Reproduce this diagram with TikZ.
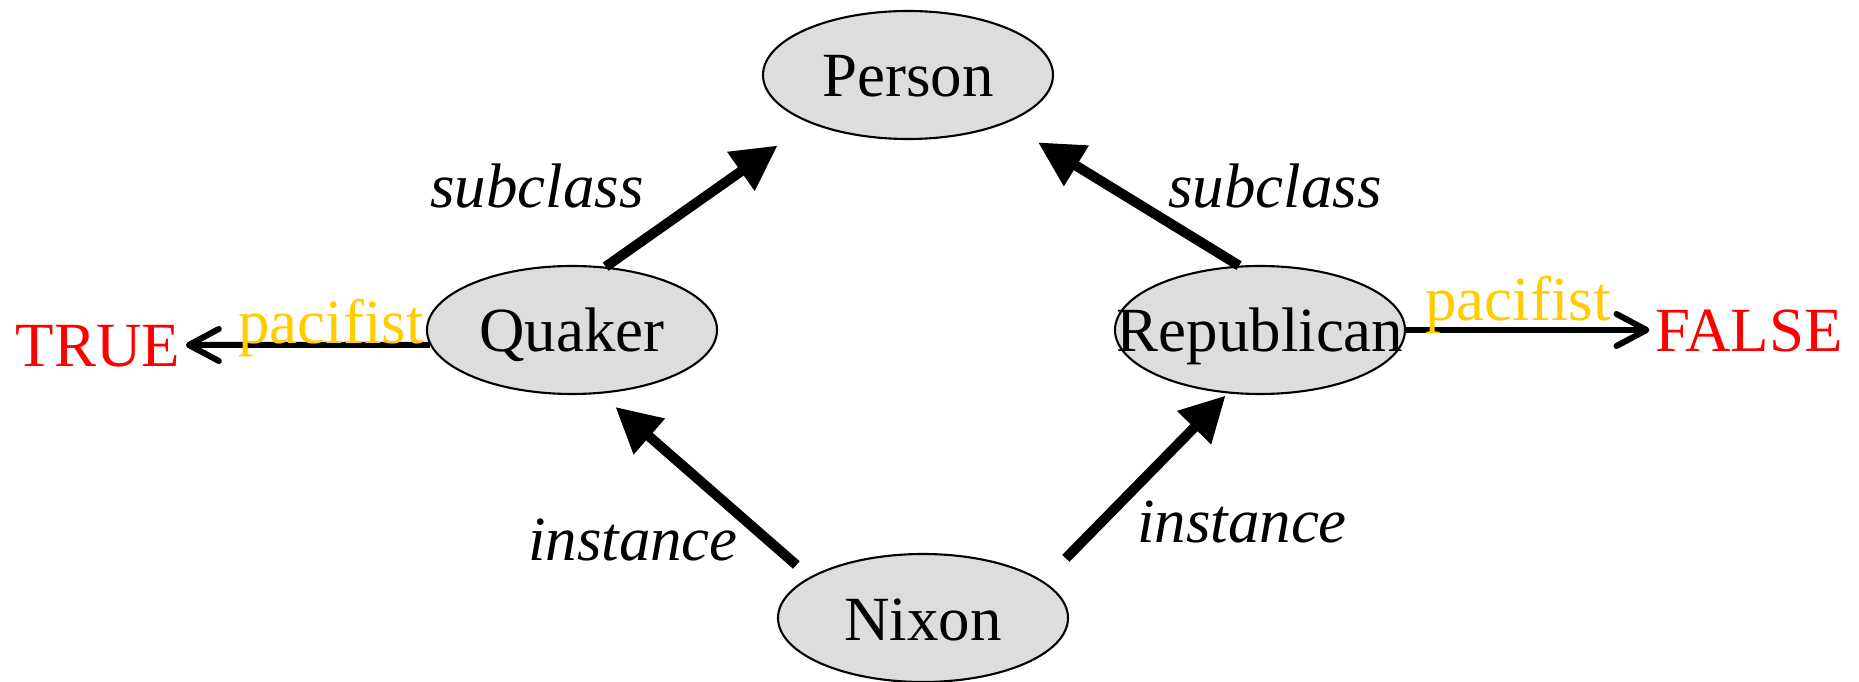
\documentclass[tikz,border=0pt]{standalone}
\usepackage{fontspec}
\setmainfont{Liberation Serif}
\usetikzlibrary{arrows.meta,shapes.geometric}
\definecolor{nodefill}{HTML}{DDDDDD}
\definecolor{valred}{HTML}{FF0000}
\definecolor{slotgold}{HTML}{FFCC00}

\begin{document}
\begin{tikzpicture}[>=Latex,font=\fontsize{17.9}{21}\selectfont,
    classnode/.style={ellipse,draw,fill=nodefill,line width=0.6pt,minimum width=2.9cm,minimum height=1.28cm,inner sep=0pt,text height=0.44cm,text depth=0pt},
    linklabel/.style={anchor=base,inner sep=0pt,font=\fontsize{17.9}{21}\selectfont\itshape},
    linkarrow/.style={-{Triangle[length=0.45cm,width=0.45cm]},line width=0.1cm},
    valnode/.style={text=valred,inner sep=0.5mm,text height=0.44cm,text depth=0pt},
    slotarrow/.style={-{Straight Barb[length=0.3cm,width=0.32cm,round]},line width=0.06cm},
    slotlabel/.style={anchor=base,text=slotgold,inner sep=0pt}]
  \useasboundingbox (0,0) rectangle (18.59,6.81);
  % classes and the instance
  \node[classnode] (person) at (9.08,6.06) {Person};
  \node[classnode] (quaker) at (5.72,3.51) {Quaker};
  \node[classnode] (republican) at (12.60,3.51) {\makebox[1.8cm]{Republican}};
  \node[classnode] (nixon) at (9.23,0.63) {Nixon};
  % values
  \node[valnode] (truelab) at (0.98,3.36) {TRUE};
  \node[valnode] (falselab) at (17.49,3.51) {FALSE};
  % links
  \draw[linkarrow,shorten >=0.39cm] (quaker.62) -- (person.206);
  \draw[linkarrow,shorten >=0.37cm] (republican.108) -- (person.334);
  \draw[linkarrow,shorten <=0.18cm,shorten >=0.2cm] (nixon.160) -- (quaker.294);
  \draw[linkarrow,shorten <=0.32cm,shorten >=0.03cm] (nixon.17) -- (republican.243);
  \node[linklabel] (subq) at (5.37,4.73) {subclass};
  \node[linklabel] (subr) at (12.75,4.73) {subclass};
  \node[linklabel] (instq) at (6.33,1.21) {instance};
  \node[linklabel] (instr) at (12.42,1.38) {instance};
  % pacifist slots
  \draw[slotarrow] (quaker.186) -- node[slotlabel,pos=0.405,yshift=0.01cm] (pacq) {pacifist} (truelab.east);
  \draw[slotarrow] (republican.east) -- node[slotlabel,pos=0.46,yshift=0.09cm] (pacr) {pacifist} (falselab.west);
\end{tikzpicture}
\end{document}
